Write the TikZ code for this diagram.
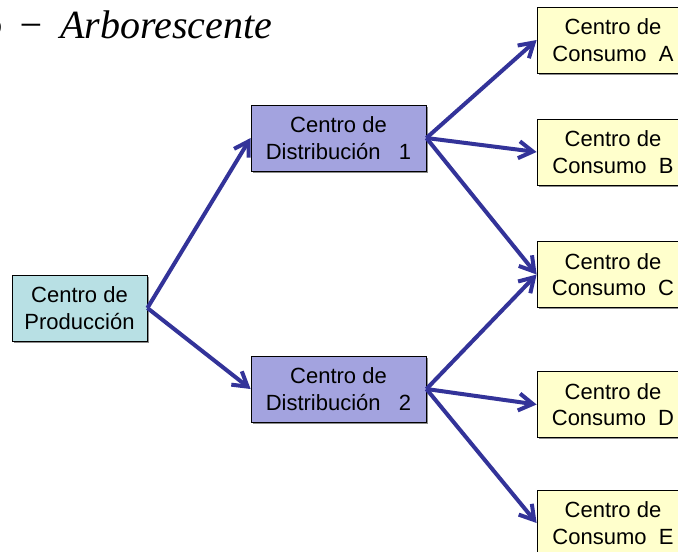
\documentclass[tikz,border=0pt]{standalone}
\usepackage{fontspec}
\setmainfont{Liberation Sans}
\newfontfamily\titlefont{Liberation Serif}
\usepackage{tikz}
\usetikzlibrary{arrows.meta,shadows}

\definecolor{flecha}{RGB}{51,51,153}
\definecolor{prodfill}{RGB}{184,224,228}
\definecolor{distfill}{RGB}{163,163,223}
\definecolor{consfill}{RGB}{255,255,204}

\tikzset{
  caja/.style={draw=black, line width=0.8pt, align=center, inner sep=0pt,
    minimum height=66pt, font=\fontsize{22}{26.5}\selectfont,
    drop shadow={shadow xshift=1.5pt, shadow yshift=-1.5pt, fill=black!45, opacity=1}},
  produccion/.style={caja, fill=prodfill, minimum width=135pt},
  distribucion/.style={caja, fill=distfill, minimum width=175pt},
  consumo/.style={caja, fill=consfill, minimum width=152pt},
  flujo/.style={draw=flecha, line width=4pt,
    -{Straight Barb[length=14pt,width=17pt,line width=4pt]}}
}

\begin{document}
\begin{tikzpicture}[x=1pt,y=-1pt]
        \clip (0,0) rectangle (678,552);
        \fill[white] (0,0) rectangle (678,552);
        \node[anchor=base west, inner sep=0pt] (titulo) at (-18,38)
            {\titlefont\fontsize{40}{44}\selectfont\itshape o\hspace{15pt}−\hspace{16pt}Arborescente};
        \node[produccion] (prod) at (79.5,308) {Centro de\\Producción};
        \node[distribucion] (dist1) at (338.5,138) {Centro de\\Distribución\ \ \ 1};
        \node[distribucion] (dist2) at (338.5,389) {Centro de\\Distribución\ \ \ 2};
        \node[consumo] (consA) at (613,40) {Centro de\\Consumo\ \ A};
        \node[consumo] (consB) at (613,152) {Centro de\\Consumo\ \ B};
        \node[consumo] (consC) at (613,274.5) {Centro de\\Consumo\ \ C};
        \node[consumo] (consD) at (613,404.5) {Centro de\\Consumo\ \ D};
        \node[consumo] (consE) at (613,523) {Centro de\\Consumo\ \ E};
        % flujos
        \draw[flujo] (prod.east) -- (dist1.west);
        \draw[flujo] (prod.east) -- (dist2.west);
        \draw[flujo] (dist1.east) -- (consA.west);
        \draw[flujo] (dist1.east) -- (consB.west);
        \draw[flujo] (dist1.east) -- (consC.west);
        \draw[flujo] (dist2.east) -- (consC.west);
        \draw[flujo] (dist2.east) -- (consD.west);
        \draw[flujo] (dist2.east) -- (consE.west);
    \end{tikzpicture}
\end{document}
